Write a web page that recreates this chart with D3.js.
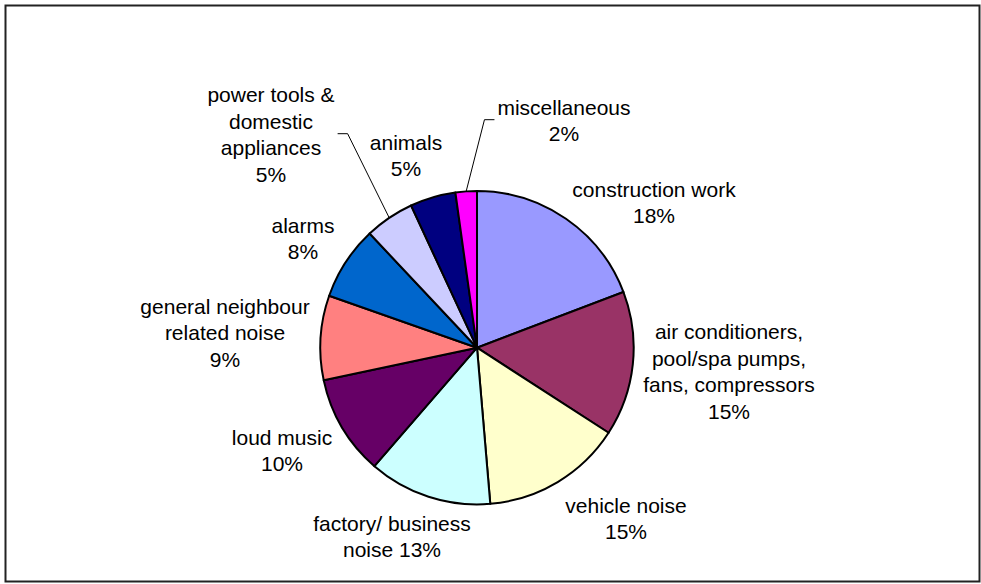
<!DOCTYPE html>
<html>
<head>
<meta charset="utf-8">
<script src="https://cdn.jsdelivr.net/npm/d3@7"></script>
<style>
  body { margin: 0; background: #fff; }
  text { font-family: "Liberation Sans", Arial, sans-serif; font-size: 21px; fill: #000; }
</style>
</head>
<body>
<div id="chart"></div>
<script>
// slice names ("|" marks a wrapped line), shares, printed percentages
const categories = [
  "construction work|", "air conditioners,|pool/spa pumps,|fans, compressors|",
  "vehicle noise|", "factory/ business|noise ", "loud music|",
  "general neighbour|related noise|", "alarms|",
  "power tools &|domestic|appliances|", "animals|", "miscellaneous|"
];
const shares = [19.2, 14.9, 14.5, 12.7, 10.3, 8.7, 7.6, 5.1, 4.7, 2.2];
const pctLabels = ["18%", "15%", "15%", "13%", "10%", "9%", "8%", "5%", "5%", "2%"];
const colors = ["#9999FF", "#993366", "#FFFFCC", "#CCFFFF", "#660066",
                "#FF8080", "#0066CC", "#CCCCFF", "#000080", "#FF00FF"];
const hasLeader = [false, false, false, false, false, false, false, true, false, true];

const width = 981, height = 584;
const cx = 477, cy = 347.7, radius = 156.7;
const lineH = 26.5;

// label centre offsets from the pie centre (Excel "best fit" placement)
const labelOffsets = [[177, -145], [252, 24], [149, 171], [-85, 189], [-195, 103],
                      [-252, -15], [-174, -109], [-206, -213], [-71, -192], [87, -227]];

const svg = d3.select("#chart").append("svg")
    .attr("width", width)
    .attr("height", height);

// chart frame
svg.append("rect")
    .attr("x", 5.5).attr("y", 5.5)
    .attr("width", 974).attr("height", 576)
    .attr("fill", "none")
    .attr("stroke", "#222")
    .attr("stroke-width", 2);

const data = categories.map((c, i) => ({name: c, value: shares[i], pct: pctLabels[i], color: colors[i], leader: hasLeader[i], off: labelOffsets[i]}));

const pie = d3.pie().sort(null).value(d => d.value);
const arc = d3.arc().innerRadius(0).outerRadius(radius);
const arcs = pie(data);

const g = svg.append("g").attr("transform", `translate(${cx},${cy})`);

g.selectAll(".slice")
    .data(arcs)
  .enter().append("path")
    .attr("class", "slice")
    .attr("d", arc)
    .attr("fill", d => d.data.color)
    .attr("stroke", "#000")
    .attr("stroke-width", 2)
    .attr("stroke-linejoin", "round");

// labels
const labels = g.selectAll(".label")
    .data(arcs)
  .enter().append("text")
    .attr("class", "label")
    .attr("text-anchor", "middle");

labels.each(function(d) {
  const lines = (d.data.name + d.data.pct).split("|");
  const t = d3.select(this);
  lines.forEach((ln, i) => {
    t.append("tspan")
        .attr("x", d.data.off[0])
        .attr("y", d.data.off[1] + (i - (lines.length - 1) / 2) * lineH)
        .attr("dy", "0.35em")
        .text(ln);
  });
});

// leader lines for the small slices
labels.filter(d => d.data.leader).each(function(d) {
  const bb = this.getBBox();
  const mid = (d.startAngle + d.endAngle) / 2;
  const px = Math.sin(mid) * radius, py = -Math.cos(mid) * radius;
  const toRight = px > d.data.off[0];
  const x0 = toRight ? bb.x + bb.width + 3 : bb.x - 3;
  const x1 = toRight ? x0 + 10 : x0 - 10;
  const y0 = d.data.off[1] - 1;
  g.append("polyline")
      .attr("points", `${x0},${y0} ${x1},${y0} ${px},${py}`)
      .attr("fill", "none")
      .attr("stroke", "#000")
      .attr("stroke-width", 1);
});
</script>
</body>
</html>
